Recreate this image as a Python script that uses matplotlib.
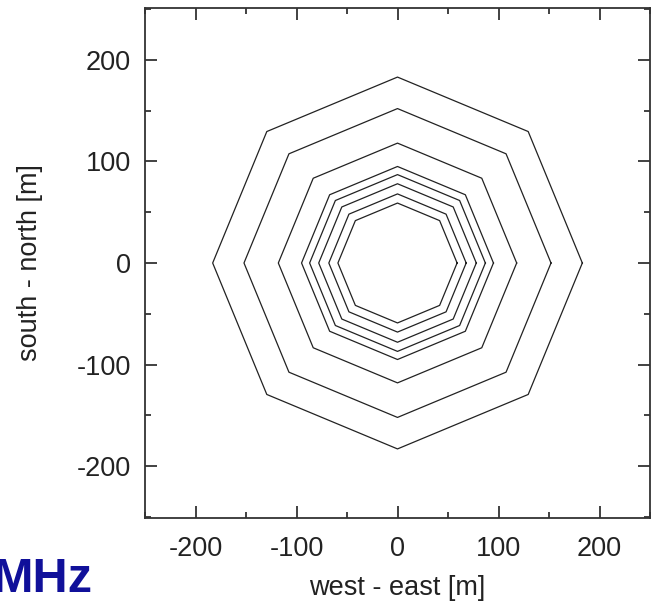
import numpy as np
import matplotlib
matplotlib.use("Agg")
import matplotlib.pyplot as plt
from matplotlib.ticker import MultipleLocator

plt.rcParams['font.family'] = ['Liberation Sans', 'DejaVu Sans']
plt.rcParams['axes.unicode_minus'] = False

# Data: ring radii (m) of the octagonal antenna layout
ring_radii = [183, 152, 118, 95, 87, 78, 68, 59]
vertex_angles_deg = [0, 45, 90, 135, 180, 225, 270, 315, 360]
x_ticks = [-200, -100, 0, 100, 200]
y_ticks = [-200, -100, 0, 100, 200]

W, H = 651, 607
fig = plt.figure(figsize=(W / 100, H / 100), dpi=100)
ax = fig.add_axes([145 / W, (H - 518) / H, 505 / W, 510 / H])

ang = np.deg2rad(vertex_angles_deg)
for r in ring_radii:
    ax.plot(r * np.cos(ang), r * np.sin(ang), color='#222222', lw=0.9)

ax.set_xlim(-250, 250)
ax.set_ylim(-251, 251)
ax.set_xticks(x_ticks)
ax.set_yticks(y_ticks)
ax.xaxis.set_minor_locator(MultipleLocator(50))
ax.yaxis.set_minor_locator(MultipleLocator(50))
ax.tick_params(which='both', direction='in', top=True, right=True, width=1.3, color='#333333')
ax.tick_params(which='major', length=8.5, labelsize=19.5, labelcolor='#222222')
ax.tick_params(axis='x', which='major', pad=13)
ax.tick_params(axis='y', which='major', pad=10)
ax.tick_params(which='minor', length=4.5)
for s in ax.spines.values():
    s.set_linewidth(1.3)
    s.set_color('#333333')

ax.set_xlabel('west - east [m]', fontsize=19.5, labelpad=9, color='#222222')
ax.set_ylabel('south - north [m]', fontsize=19.5, labelpad=24, color='#222222')

fig.text(93 / W, (H - 592) / H, 'MHz', ha='right', va='baseline',
         fontsize=35, fontweight='bold', color='#10109a')

fig.savefig('out.png', dpi=100)
